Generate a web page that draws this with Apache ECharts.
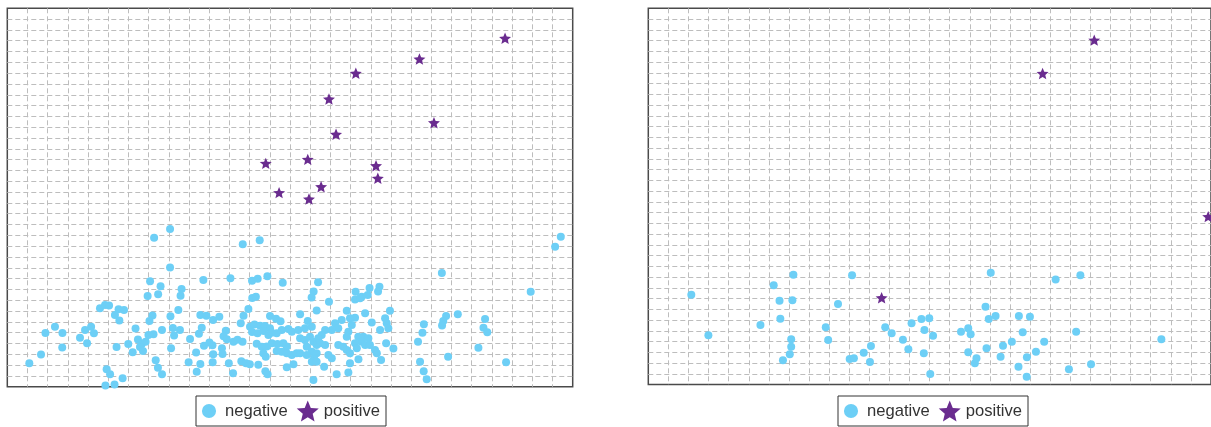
<!DOCTYPE html>
<html>
<head>
<meta charset="utf-8">
<script src="https://cdn.jsdelivr.net/npm/echarts/dist/echarts.min.js"></script>
<style>
html,body{margin:0;padding:0;background:#ffffff;}
#chart{width:1211px;height:427px;}
</style>
</head>
<body>
<div id="chart"></div>
<script>
// ---- data (grid units) ----
const seriesNames = ['negative', 'positive'];

const leftNegative = [[1.09,2.16],[1.67,2.98],[1.89,4.97],[2.36,5.55],[2.73,4.97],[2.72,3.63],[3.60,4.53],[3.85,5.25],[3.95,4.02],[4.15,5.55],[4.29,4.94],[4.59,7.25],[4.84,7.56],[5.04,7.51],[5.51,7.16],[5.78,7.10],[5.33,6.63],[5.55,6.12],[5.41,3.67],[4.92,1.61],[5.09,1.15],[5.71,0.78],[4.86,0.11],[5.31,0.20],[6.35,5.38],[5.99,3.95],[6.21,3.18],[6.47,4.37],[6.66,3.95],[6.85,4.16],[6.57,3.67],[6.72,3.30],[6.99,4.78],[7.24,4.85],[7.07,9.75],[7.59,9.29],[7.47,8.55],[6.95,8.39],[7.19,6.59],[7.04,6.08],[7.27,13.78],[8.06,14.59],[8.06,11.03],[7.66,5.25],[7.35,2.44],[7.46,1.76],[7.66,1.15],[8.08,6.51],[8.47,7.10],[8.63,9.04],[8.58,8.42],[8.20,5.43],[8.55,5.25],[8.26,4.74],[8.11,3.55],[9.05,4.41],[9.49,4.90],[9.63,5.46],[9.56,6.63],[9.86,6.57],[10.19,6.17],[10.50,6.48],[9.71,9.87],[11.05,10.03],[9.74,3.78],[10.01,4.09],[10.16,3.84],[10.63,3.55],[10.66,3.03],[9.35,3.16],[10.20,3.01],[8.98,2.27],[9.56,2.10],[9.38,1.39],[10.17,2.26],[10.82,5.17],[10.71,4.66],[10.87,4.38],[10.97,2.16],[11.18,1.24],[11.20,4.16],[11.40,4.35],[11.65,4.16],[11.59,2.35],[11.82,2.16],[12.01,2.07],[11.66,13.17],[12.50,13.54],[12.12,9.81],[12.40,9.99],[12.88,10.22],[13.64,9.62],[12.13,8.21],[12.31,8.33],[11.94,7.19],[11.70,6.57],[11.56,5.87],[12.02,5.55],[12.24,5.75],[12.52,5.63],[12.76,5.62],[13.01,5.40],[12.12,5.06],[12.39,4.94],[12.69,5.15],[12.93,4.78],[13.09,5.00],[13.01,6.54],[13.31,6.28],[13.53,6.05],[12.35,3.97],[12.60,3.70],[12.85,3.72],[13.10,4.01],[12.68,3.09],[12.80,2.78],[13.38,3.95],[13.67,4.01],[13.84,3.72],[13.34,3.30],[13.59,3.24],[13.84,3.09],[14.09,2.93],[14.33,3.09],[12.43,2.04],[12.78,1.42],[12.89,1.16],[13.84,1.80],[14.17,2.07],[13.92,5.34],[14.09,5.09],[14.41,5.25],[14.74,5.40],[15.08,5.55],[13.34,4.94],[13.59,5.25],[14.50,6.70],[14.88,6.08],[15.32,7.05],[14.50,4.48],[14.74,4.32],[14.99,4.63],[15.16,4.16],[15.32,3.86],[14.83,3.70],[15.08,3.24],[15.32,3.09],[14.50,3.09],[14.83,2.93],[15.19,2.63],[15.08,2.31],[15.16,0.62],[15.39,9.66],[15.17,8.81],[15.07,8.25],[15.93,7.86],[16.81,7.03],[17.22,6.38],[17.06,5.71],[16.97,6.33],[16.56,6.17],[17.72,6.79],[18.95,7.03],[18.71,6.33],[18.79,5.87],[18.87,5.40],[18.46,5.25],[18.05,5.94],[16.23,5.87],[16.39,5.40],[16.07,5.25],[15.74,5.25],[15.57,4.78],[15.40,4.48],[16.89,5.09],[16.81,4.63],[17.38,4.63],[17.63,4.63],[17.88,4.48],[17.55,4.16],[17.72,3.86],[17.96,3.86],[17.22,4.01],[17.31,3.55],[16.39,3.86],[16.64,3.70],[16.81,3.40],[16.97,3.09],[15.49,4.01],[15.74,3.86],[15.90,2.93],[16.07,2.63],[18.21,3.40],[18.30,3.09],[18.76,4.01],[19.12,3.53],[17.39,2.53],[18.51,2.47],[16.97,2.16],[15.69,1.85],[15.32,2.31],[16.31,1.16],[16.89,1.31],[17.25,8.79],[17.55,8.33],[17.85,8.48],[17.94,9.13],[18.43,9.25],[18.36,8.81],[17.22,8.07],[17.47,8.18],[21.52,10.52],[21.73,6.54],[21.59,6.08],[21.53,5.66],[22.31,6.70],[20.63,5.78],[20.56,5.00],[20.34,4.16],[21.83,2.78],[20.44,2.31],[20.62,1.42],[20.77,0.69],[23.66,6.26],[23.58,5.46],[23.77,5.03],[23.33,3.61],[24.70,2.26],[25.92,8.79],[27.13,12.95],[27.41,13.88]];

const leftPositive = [[24.65,32.23],[20.41,30.31],[17.26,28.99],[15.93,26.61],[21.13,24.42],[16.28,23.35],[14.88,21.03],[18.26,20.44],[18.35,19.28],[15.54,18.50],[14.94,17.36],[12.80,20.66],[13.46,17.95]];

const rightNegative = [[2.14,8.35],[2.99,4.58],[7.22,10.21],[6.24,9.23],[6.53,7.79],[7.17,7.83],[6.57,6.12],[5.58,5.53],[7.11,4.20],[7.11,3.52],[7.04,2.81],[6.70,2.25],[10.14,10.16],[9.44,7.49],[8.83,5.32],[8.95,4.14],[10.02,2.37],[10.23,2.44],[10.72,2.96],[11.08,3.58],[11.03,2.09],[11.79,5.32],[12.11,4.76],[12.67,4.17],[12.94,3.27],[13.10,5.69],[13.59,6.09],[13.98,6.16],[13.74,5.07],[14.17,4.54],[13.71,2.90],[14.03,0.98],[15.56,4.91],[15.92,5.23],[16.04,4.67],[15.92,2.99],[16.33,2.44],[16.25,1.97],[16.83,3.37],[16.78,7.24],[16.94,6.09],[17.28,6.37],[17.04,10.40],[17.65,3.61],[17.53,2.59],[18.09,3.98],[18.44,6.37],[18.99,6.31],[18.63,4.85],[18.84,2.53],[18.42,1.66],[18.83,0.73],[19.29,3.05],[19.70,3.98],[20.27,9.78],[21.50,10.16],[21.29,4.91],[20.93,1.41],[22.03,1.88],[25.53,4.20]];

const rightPositive = [[22.19,32.04],[19.62,28.94],[11.61,8.07],[27.86,15.62]];

const xRange = [0, 28];
const yRange = [0, 35];

// ---- styling ----
const BLUE = '#6dcff6';
const PURPLE = '#6a2c8f';
const STAR = 'path://M50 0 L63.23 31.8 L97.55 34.55 L71.4 56.95 L79.39 90.45 L50 72.5 L20.61 90.45 L28.6 56.95 L2.45 34.55 L36.77 31.8 Z';
const DOT_ICON = 'path://M0 0 L0 0 M100 100 L100 100 M18 50 A32 32 0 1 1 82 50 A32 32 0 1 1 18 50 Z';

function makeAxis(gi, range) {
  return {
    gridIndex: gi, type: 'value', min: range[0], max: range[1], interval: 1,
    axisLine: {show: false}, axisTick: {show: false}, axisLabel: {show: false},
    splitLine: {show: true, showMinLine: false, showMaxLine: false,
      lineStyle: {color: '#bdbdbd', width: 1, type: [5, 3]}}
  };
}
function makeLegend(left) {
  return {
    left: left, top: 396, orient: 'horizontal',
    padding: [4, 6, 4, 2], itemGap: 9, itemWidth: 22, itemHeight: 22,
    borderColor: '#333', borderWidth: 1, backgroundColor: '#fff',
    textStyle: {fontFamily: 'Liberation Sans, Arial, sans-serif', fontSize: 16.6, color: '#333'},
    data: [{name: seriesNames[0], icon: DOT_ICON}, {name: seriesNames[1], icon: STAR}]
  };
}
function scatter(name, gi, data) {
  const neg = name === seriesNames[0];
  return {
    name: name, type: 'scatter', xAxisIndex: gi, yAxisIndex: gi, data: data,
    symbol: neg ? 'circle' : STAR, symbolSize: neg ? 8 : 12, symbolKeepAspect: true,
    itemStyle: {color: neg ? BLUE : PURPLE, opacity: 1},
    emphasis: {disabled: true}, silent: true, clip: false
  };
}

const chart = echarts.init(document.getElementById('chart'), null, {renderer: 'canvas'});
chart.setOption({
  animation: false,
  backgroundColor: '#ffffff',
  grid: [
    {left: 7.3, top: 8.3, width: 565.4, height: 378.4, show: true, borderColor: '#4a4a4a', borderWidth: 1.5, backgroundColor: '#fff'},
    {left: 648.3, top: 8.3, width: 568.5, height: 376.2, show: true, borderColor: '#4a4a4a', borderWidth: 1.5, backgroundColor: '#fff'}
  ],
  xAxis: [makeAxis(0, xRange), makeAxis(1, xRange)],
  yAxis: [makeAxis(0, yRange), makeAxis(1, yRange)],
  legend: [makeLegend(196), makeLegend(838)],
  series: [
    scatter(seriesNames[0], 0, leftNegative),
    scatter(seriesNames[1], 0, leftPositive),
    scatter(seriesNames[0], 1, rightNegative),
    scatter(seriesNames[1], 1, rightPositive)
  ]
});
</script>
</body>
</html>
